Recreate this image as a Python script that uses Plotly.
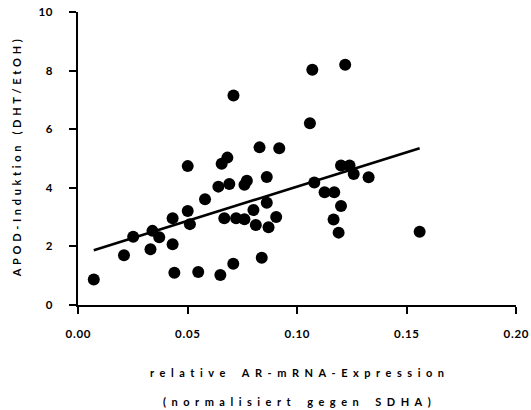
import plotly.graph_objects as go

# Data
ar_expression = [0.0072, 0.021, 0.0252, 0.0331, 0.034, 0.0371, 0.0432, 0.0432, 0.0440,
                 0.0501, 0.0511, 0.0501, 0.0549, 0.058, 0.0641, 0.065, 0.0656, 0.0682,
                 0.0668, 0.0691, 0.0709, 0.0722, 0.076, 0.076, 0.0771, 0.0801, 0.0812,
                 0.0839, 0.0862, 0.0862, 0.087, 0.0905, 0.0710, 0.0829, 0.0919, 0.107,
                 0.122, 0.1059, 0.1201, 0.124, 0.1259, 0.1327, 0.1079, 0.1126, 0.117,
                 0.1201, 0.1167, 0.119, 0.156]
apod_induction = [0.87, 1.70, 2.33, 1.90, 2.53, 2.31, 2.07, 2.96, 1.10,
                  3.21, 2.76, 4.74, 1.13, 3.61, 4.04, 1.02, 4.82, 5.03,
                  2.96, 4.13, 1.41, 2.96, 2.93, 4.10, 4.24, 3.24, 2.73,
                  1.61, 4.37, 3.49, 2.65, 3.00, 7.15, 5.38, 5.35, 8.03,
                  8.20, 6.20, 4.76, 4.76, 4.47, 4.36, 4.18, 3.85, 3.85,
                  3.38, 2.92, 2.47, 2.50]
fit_x = [0.0072, 0.156]
fit_y = [1.87, 5.35]

x_ticks = [0.0, 0.05, 0.10, 0.15, 0.20]
x_tick_labels = ["0.00", "0.05", "0.10", "0.15", "0.20"]
y_ticks = [0, 2, 4, 6, 8, 10]
y_tick_labels = ["0", "2", "4", "6", "8", "10"]

x_title_1 = "relative AR-mRNA-Expression"
x_title_2 = "(normalisiert gegen SDHA)"
y_title = "APOD-Induktion (DHT/EtOH)"

FONT = "Lato"


def tracked(s, gap):
    """Reproduce the wide letter tracking of the original by spacing characters."""
    out = []
    for ch in s:
        if ch == " ":
            out.append(gap)
        else:
            out.append(ch)
    return gap.join(out)


fig = go.Figure()
fig.add_trace(go.Scatter(x=ar_expression, y=apod_induction, mode="markers",
                         marker=dict(size=12, color="black"), cliponaxis=False,
                         showlegend=False))
fig.add_trace(go.Scatter(x=fit_x, y=fit_y, mode="lines",
                         line=dict(color="black", width=2.6), showlegend=False))

axis_common = dict(showgrid=False, zeroline=False, showline=True, linecolor="black",
                   linewidth=2.4, ticks="outside", ticklen=7, tickwidth=2.2,
                   tickcolor="black", ticklabeloverflow="allow", automargin=False,
                   tickfont=dict(family=FONT, size=11.5, color="black", weight="bold"))

TICK_GAP = "\u200a"
fig.update_layout(
    width=531, height=410,
    margin=dict(l=78, r=15, t=12, b=105),
    paper_bgcolor="white", plot_bgcolor="white",
    xaxis=dict(range=[0, 0.2], tickvals=x_ticks,
               ticktext=[tracked(t, TICK_GAP) for t in x_tick_labels],
               ticklabelstandoff=10, **axis_common),
    yaxis=dict(range=[0, 10], tickvals=y_ticks,
               ticktext=[tracked(t, TICK_GAP) for t in y_tick_labels],
               ticklabelstandoff=14, **axis_common),
    annotations=[
        dict(text=tracked(x_title_1, "\u2002"), xref="paper", yref="paper", x=0.5, y=-0.229,
             xanchor="center", yanchor="middle", showarrow=False,
             font=dict(family=FONT, size=11, color="black", weight="bold")),
        dict(text=tracked(x_title_2, "\u2002"), xref="paper", yref="paper", x=0.5, y=-0.328,
             xanchor="center", yanchor="middle", showarrow=False,
             font=dict(family=FONT, size=11, color="black", weight="bold")),
        dict(text=tracked(y_title, "\u2004"), xref="paper", yref="paper", x=-0.14, y=0.5,
             xanchor="center", yanchor="middle", showarrow=False, textangle=-90,
             font=dict(family=FONT, size=11, color="black", weight="bold")),
    ],
)

fig.write_html("out.html")
